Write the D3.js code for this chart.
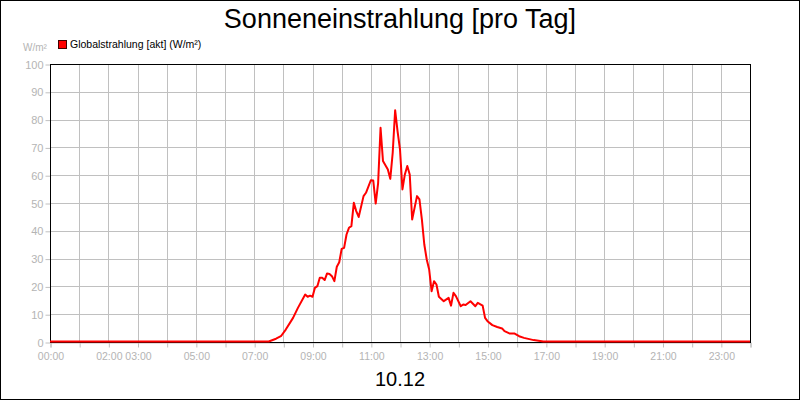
<!DOCTYPE html>
<html>
<head>
<meta charset="utf-8">
<script src="https://cdn.jsdelivr.net/npm/d3@7"></script>
<style>
  body { margin: 0; background: #fff; }
  text { font-family: "Liberation Sans", Arial, sans-serif; }
</style>
</head>
<body>
<div id="chart"></div>
<script>
const times = ["00:00", "07:30", "07:45", "07:55", "08:05", "08:20", "08:30", "08:45", "08:50", "08:55",
  "09:00", "09:05", "09:10", "09:15", "09:20", "09:25", "09:30", "09:35", "09:40", "09:45", "09:50",
  "09:55", "10:00", "10:05", "10:10", "10:15", "10:20", "10:25", "10:30", "10:35", "10:45", "10:50",
  "11:00", "11:05", "11:10", "11:15", "11:20", "11:25", "11:35", "11:40", "11:45", "11:50", "11:55",
  "12:00", "12:05", "12:10", "12:15", "12:20", "12:25", "12:35", "12:40", "12:45", "12:50", "12:55",
  "13:00", "13:05", "13:10", "13:15", "13:20", "13:30", "13:40", "13:45", "13:50", "13:55", "14:05",
  "14:10", "14:15", "14:25", "14:35", "14:40", "14:50", "14:55", "15:00", "15:10", "15:20", "15:30",
  "15:35", "15:45", "15:55", "16:05", "16:15", "16:35", "16:55", "24:00"]
const values = [0, 0, 1.0, 1.9, 4.3, 8.5, 12.1, 16.9, 16.1, 16.5,
  16.1, 19.3, 19.9, 22.9, 22.9, 22.1, 24.5, 24.3, 23.5, 21.7, 26.9,
  28.5, 33.3, 33.7, 38.5, 40.9, 41.5, 49.9, 46.9, 44.8, 52.3, 53.5,
  58.0, 57.9, 49.6, 57.0, 76.9, 64.9, 61.9, 58.5, 67.9, 83.2, 75.6,
  69.1, 54.7, 60.1, 63.1, 60.1, 43.9, 52.3, 51.1, 43.9, 34.9, 29.5,
  25.9, 18.1, 21.7, 20.5, 16.1, 14.5, 15.7, 12.9, 17.5, 16.3, 12.7,
  13.3, 13.1, 14.5, 12.7, 13.9, 12.9, 8.5, 7.3, 5.9, 5.2, 4.7,
  3.7, 2.9, 2.9, 1.9, 1.3, 0.5, 0, 0]
const xTickHours = [0, 2, 3, 5, 7, 9, 11, 13, 15, 17, 19, 21, 23]
const yTicks = [0, 10, 20, 30, 40, 50, 60, 70, 80, 90, 100]

const width = 800, height = 400
const margin = { top: 64, right: 50, bottom: 58, left: 50 }

const toMin = s => { const p = s.split(":"); return +p[0] * 60 + +p[1] }
const data = times.map((t, i) => ({ t: toMin(t), v: values[i] }))

const svg = d3.select("#chart").append("svg")
  .attr("width", width)
  .attr("height", height)

svg.append("rect")
  .attr("x", 0.5).attr("y", 0.5)
  .attr("width", width - 1).attr("height", height - 1)
  .attr("fill", "#fff").attr("stroke", "#000")

const x = d3.scaleLinear().domain([0, 1440]).range([margin.left, width - margin.right])
const y = d3.scaleLinear().domain([0, 100]).range([height - margin.bottom, margin.top])

// grid
svg.append("g")
  .selectAll("line")
  .data(d3.range(1, 24))
  .join("line")
  .attr("x1", d => Math.round(x(d * 60)) + 0.5)
  .attr("x2", d => Math.round(x(d * 60)) + 0.5)
  .attr("y1", y(100)).attr("y2", y(0))
  .attr("stroke", "#c0c0c0")

svg.append("g")
  .selectAll("line")
  .data(yTicks.slice(1, -1))
  .join("line")
  .attr("x1", x(0)).attr("x2", x(1440))
  .attr("y1", d => Math.round(y(d)) + 0.5)
  .attr("y2", d => Math.round(y(d)) + 0.5)
  .attr("stroke", "#c0c0c0")

// axes
const xAxis = d3.axisBottom(x)
  .tickValues(d3.range(0, 25).map(h => h * 60))
  .tickSize(5)
  .tickFormat(d => xTickHours.includes(d / 60) ? d3.format("02")(d / 60) + ":00" : "")

const gx = svg.append("g")
  .attr("transform", `translate(0.5, ${y(0) + 0.5})`)
  .call(xAxis)
gx.select(".domain").attr("stroke", "#c0c0c0")
gx.selectAll(".tick line").attr("stroke", "#c0c0c0")
gx.selectAll(".tick text").attr("fill", "#b4b4b4").attr("font-size", 10.5)
  .attr("font-family", "Liberation Sans, Arial, sans-serif").attr("dy", "0.95em")

const yAxis = d3.axisLeft(y).tickValues(yTicks).tickSize(5)
const gy = svg.append("g")
  .attr("transform", `translate(${x(0) + 0.5}, 0.5)`)
  .call(yAxis)
gy.select(".domain").remove()
gy.selectAll(".tick line").attr("stroke", "#c0c0c0")
gy.selectAll(".tick text").attr("fill", "#b4b4b4").attr("font-size", 11)
  .attr("font-family", "Liberation Sans, Arial, sans-serif").attr("x", -7)

// plot frame
svg.append("rect")
  .attr("x", x(0) + 0.5).attr("y", y(100) + 0.5)
  .attr("width", x(1440) - x(0)).attr("height", y(0) - y(100))
  .attr("fill", "none").attr("stroke", "#000")

// line
svg.append("path")
  .datum(data)
  .attr("fill", "none")
  .attr("stroke", "#ff0000")
  .attr("stroke-width", 2)
  .attr("stroke-linejoin", "round")
  .attr("d", d3.line().x(d => x(d.t)).y(d => y(d.v) - 0.5))

// title
svg.append("text")
  .attr("x", width / 2).attr("y", 28)
  .attr("text-anchor", "middle")
  .attr("font-size", 27)
  .text("Sonneneinstrahlung [pro Tag]")

svg.append("text")
  .attr("x", width / 2).attr("y", 386)
  .attr("text-anchor", "middle")
  .attr("font-size", 20)
  .text("10.12")

svg.append("text")
  .attr("x", 23).attr("y", 51)
  .attr("fill", "#b4b4b4")
  .attr("font-size", 10)
  .text("W/m²")

// legend
svg.append("rect")
  .attr("x", 58.5).attr("y", 40.5)
  .attr("width", 8).attr("height", 8)
  .attr("fill", "#ff0000").attr("stroke", "#400000")

svg.append("text")
  .attr("x", 70).attr("y", 48)
  .attr("font-size", 10.5)
  .text("Globalstrahlung [akt] (W/m²)")
</script>
</body>
</html>
